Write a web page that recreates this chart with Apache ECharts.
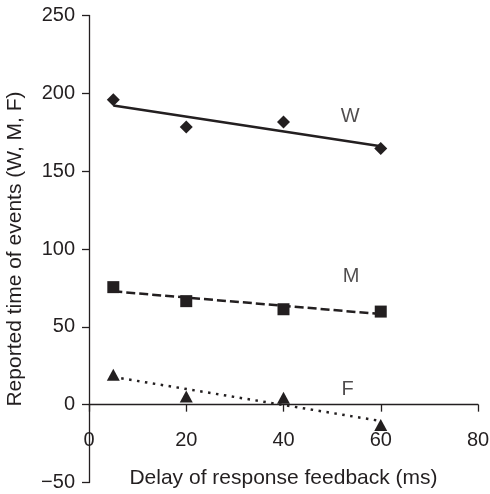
<!DOCTYPE html>
<html>
<head>
<meta charset="utf-8">
<script src="https://cdn.jsdelivr.net/npm/echarts@6/dist/echarts.min.js"></script>
<style>html,body{margin:0;padding:0;background:#fff}#c{width:490px;height:494px}</style>
</head>
<body>
<div id="c"></div>
<script>
// Data
const xTitle = 'Delay of response feedback (ms)';
const yTitle = 'Reported time of events (W, M, F)';
const delays = [5, 20, 40, 60];
const wValues = [195.8, 178.4, 181.6, 164.5];
const mValues = [75.5, 66.5, 61.3, 59.8];
const fValues = [19.2, 5.3, 4.5, -13.0];
const trendX = [5, 60];
const wTrend = [192.2, 166];
const mTrend = [72.8, 58.2];
const fTrend = [17.8, -10.5];
const seriesLabels = ['W', 'M', 'F'];
const labelX = [53.7, 53.9, 53.2];
const labelY = [185.2, 82.5, 9.5];

const ink = '#231f20';
const font = '"Liberation Sans", Arial, Helvetica, sans-serif';
const pairs = (xs, ys) => xs.map((x, i) => [x, ys[i]]);

const gridTop = 15.5, gridBottom = 11.5, H = 494;
// distance from the bottom of the plot (y = -50) up to the y = 0 line
const zeroOffset = (H - gridTop - gridBottom) * 50 / 300;

const chart = echarts.init(document.getElementById('c'), null, {renderer: 'canvas'});
chart.setOption({
  animation: false,
  backgroundColor: '#fff',
  grid: {left: 89, right: 12, top: gridTop, bottom: gridBottom, containLabel: false, outerBoundsMode: 'none'},
  xAxis: {
    type: 'value', min: 0, max: 80, interval: 20,
    offset: -zeroOffset,
    name: xTitle, nameLocation: 'middle', nameGap: 63,
    nameTextStyle: {fontFamily: font, fontSize: 21, color: ink},
    axisLine: {onZero: false, lineStyle: {color: ink, width: 1.3}},
    axisTick: {show: true, inside: false, length: 7, lineStyle: {color: ink, width: 1.3}},
    axisLabel: {fontFamily: font, fontSize: 20, color: ink, margin: 26},
    splitLine: {show: false}
  },
  yAxis: {
    type: 'value', min: -50, max: 250, interval: 50,
    name: yTitle, nameLocation: 'middle', nameGap: 63, nameRotate: 90,
    nameTextStyle: {fontFamily: font, fontSize: 21, color: ink},
    axisLine: {show: true, lineStyle: {color: ink, width: 1.3}},
    axisTick: {show: true, inside: false, length: 7, lineStyle: {color: ink, width: 1.3}},
    axisLabel: {fontFamily: font, fontSize: 20, color: ink, margin: 14,
      formatter: v => (v < 0 ? '\u2212' + Math.abs(v) : String(v))},
    splitLine: {show: false}
  },
  series: [
    {type: 'line', data: pairs(trendX, wTrend), showSymbol: false, symbol: 'none',
     lineStyle: {color: ink, width: 2.5, type: 'solid'}, z: 2},
    {type: 'line', data: pairs(trendX, mTrend), showSymbol: false, symbol: 'none',
     lineStyle: {color: ink, width: 2.5, type: [9, 4]}, z: 2},
    {type: 'line', data: pairs(trendX, fTrend), showSymbol: false, symbol: 'none',
     lineStyle: {color: ink, width: 2.5, type: [2.5, 5.5]}, z: 2},
    {type: 'scatter', data: pairs(delays, wValues), symbol: 'diamond', symbolSize: 13,
     itemStyle: {color: ink, opacity: 1}, z: 3},
    {type: 'scatter', data: pairs(delays, mValues), symbol: 'rect', symbolSize: 12,
     itemStyle: {color: ink, opacity: 1}, z: 3},
    {type: 'scatter', data: pairs(delays, fValues), symbol: 'triangle', symbolSize: [13, 12],
     itemStyle: {color: ink, opacity: 1}, z: 3},
    {type: 'scatter', symbolSize: 0, silent: true,
     data: seriesLabels.map((t, i) => ({value: [labelX[i], labelY[i]], name: t})),
     label: {show: true, position: 'inside', formatter: p => p.name,
       fontFamily: font, fontSize: 20, color: ink, align: 'center', verticalAlign: 'middle'}, z: 4}
  ]
});
</script>
</body>
</html>
